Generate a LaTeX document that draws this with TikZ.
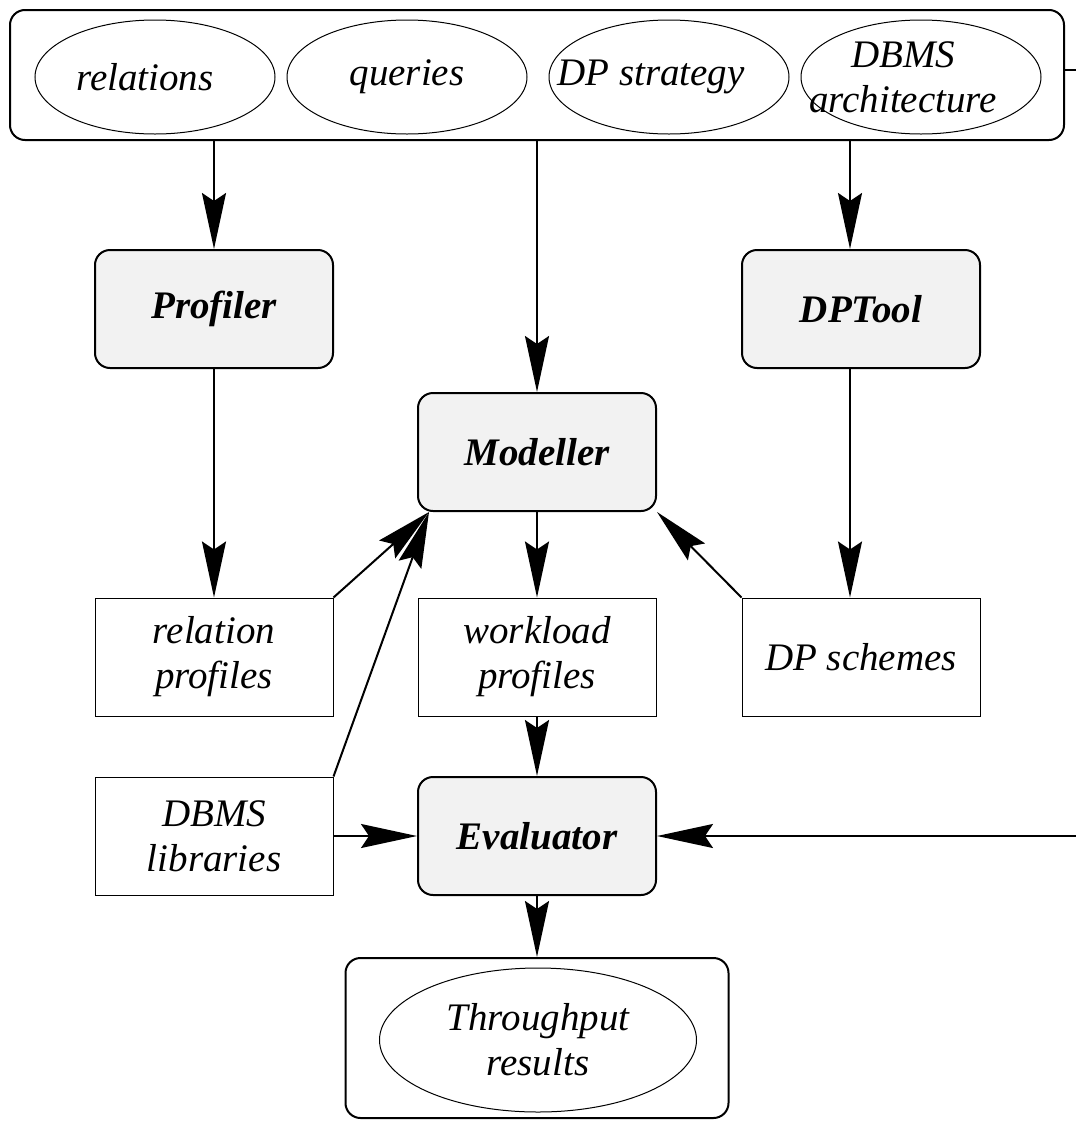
\documentclass[tikz,border=0pt]{standalone}
\usepackage{fontspec}
\setmainfont{Liberation Serif}
\usetikzlibrary{shapes.geometric,arrows.meta,positioning}
\begin{document}
\begin{tikzpicture}[x=0.5pt,y=-0.5pt,>={Stealth[length=28pt,width=12pt,inset=4pt]},
        font=\fontsize{19.5}{22.5}\selectfont\itshape,
        tool/.style={draw,line width=1pt,rounded corners=7.5pt,fill=gray!10,
            minimum width=119pt,minimum height=59pt,
            font=\fontsize{19.5}{22.5}\selectfont\bfseries\itshape},
        data/.style={draw,line width=0.5pt,minimum width=119pt,minimum height=59pt,align=center},
        blob/.style={draw,ellipse,line width=0.5pt,minimum width=120pt,minimum height=57pt,inner sep=0pt},
        frame/.style={draw,line width=1pt,rounded corners=7.5pt},
        flow/.style={->,line width=1pt}]
        \useasboundingbox (0,0) rectangle (1076,1125);

        % the inputs
        \node[frame,minimum width=527pt,minimum height=65pt] (inputs) at (537,75) {};
        \foreach \x/\dx/\name/\txt in {
            155/-5/rel/relations,
            407/0/qry/queries,
            669/-9/strat/DP strategy,
            921/-9/arch/{DBMS\\architecture}} {
                \node[blob] (\name) at (\x,77) {};
                \node[align=center] (\name txt) at ([xshift=\dx pt]\name) {\txt};
        }
        \coordinate (rout) at (1076,70);
        \draw[line width=1pt] (inputs.east |- rout) -- (rout);

        % the tools
        \node[tool] (profiler) at (214,309) {Profiler};
        \node[tool] (dptool) at (861,309) {DPTool};
        \node[tool] (modeller) at (537,452) {Modeller};
        \node[tool] (evaluator) at (537,836) {Evaluator};

        % what they read and write
        \node[data] (relprof) at (214,657) {relation\\profiles};
        \node[data] (workprof) at (537,657) {workload\\profiles};
        \node[data] (dpsch) at (861,657) {DP schemes};
        \node[data] (dbmslib) at (214,836) {DBMS\\libraries};

        % the results
        \node[frame,minimum width=191.5pt,minimum height=80pt] (resbox) at (537,1038) {};
        \node[blob,minimum width=158.5pt,minimum height=72pt,align=center] (results) at (538,1040) {Throughput\\results};

        % connectors
        \coordinate (dpx) at ([xshift=-5.5pt]dptool.north);
        \coordinate (mdl) at ([xshift=6pt]modeller.south west);
        \coordinate (rin) at (1076,836);
        \draw[flow] (profiler.north |- inputs.south) -- (profiler.north);
        \draw[flow] (modeller.north |- inputs.south) -- (modeller.north);
        \draw[flow] (dpx |- inputs.south) -- (dpx);
        \draw[flow] (profiler) -- (relprof);
        \draw[flow] (dpx |- dptool.south) -- (dpx |- dpsch.north);
        \draw[flow] (relprof.north east) -- (mdl);
        \draw[flow] (dbmslib.north east) -- (mdl);
        \draw[flow] (dpsch.north west) -- (modeller.south east);
        \draw[flow] (modeller) -- (workprof);
        \draw[flow] (workprof) -- (evaluator);
        \draw[flow] (dbmslib) -- (evaluator);
        \draw[flow] (rin) -- (evaluator);
        \draw[flow] (evaluator) -- (resbox);
\end{tikzpicture}
\end{document}
